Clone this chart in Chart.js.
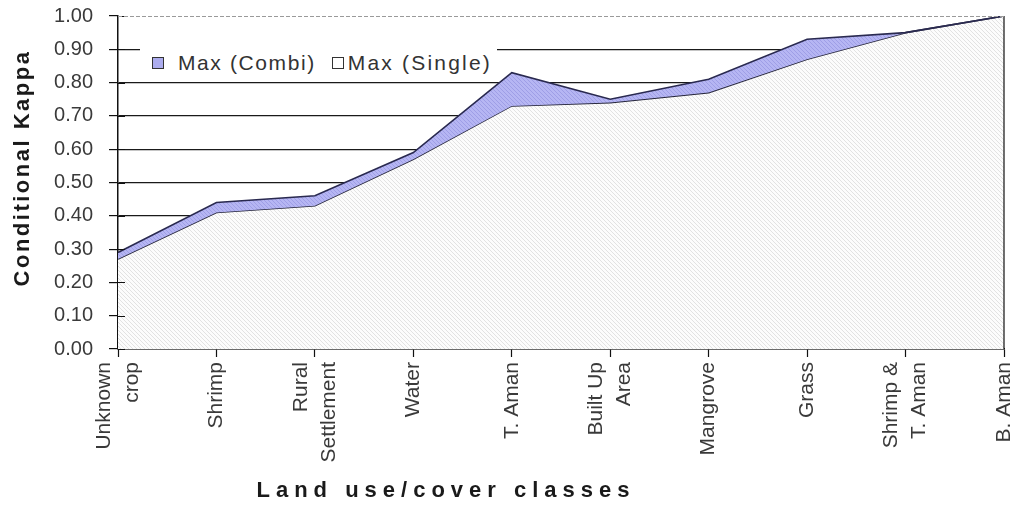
<!DOCTYPE html>
<html>
<head>
<meta charset="utf-8">
<script src="https://cdn.jsdelivr.net/npm/chart.js@4.4.1/dist/chart.umd.min.js"></script>
<style>
  html, body { margin: 0; padding: 0; background: #fff; }
  #wrap { position: relative; width: 1018px; height: 510px; }
  #legend {
    position: absolute; left: 140px; top: 45px; width: 357px; height: 36px;
    background: #fff; display: flex; align-items: center;
    font: 21px "Liberation Sans", Arial, sans-serif; color: #333; letter-spacing: 1.6px;
    white-space: nowrap;
  }
  #legend .item { display: flex; align-items: center; }
  #legend .sw { width: 10px; height: 10px; border: 1px solid #333; }
</style>
</head>
<body>
<div id="wrap">
  <canvas id="chart-kappa" width="1018" height="510"></canvas>
  <div id="legend"></div>
</div>
<script>
// Conditional Kappa por clase de uso/cobertura del suelo
const classes = [['Unknown', 'crop'], 'Shrimp', ['Rural', 'Settlement'], 'Water', 'T. Aman',
  ['Built Up', 'Area'], 'Mangrove', 'Grass', ['Shrimp &', 'T. Aman'], 'B. Aman'];
const maxCombi  = [0.29, 0.44, 0.46, 0.59, 0.83, 0.75, 0.81, 0.93, 0.95, 1.00];
const maxSingle = [0.27, 0.41, 0.43, 0.57, 0.73, 0.74, 0.77, 0.87, 0.95, 1.00];
const kappaTicks = [0, 0.1, 0.2, 0.3, 0.4, 0.5, 0.6, 0.7, 0.8, 0.9, 1.0];

const FONT = "'Liberation Sans', Arial, sans-serif";

function makePattern(base, dot) {
  const c = document.createElement('canvas');
  c.width = 4; c.height = 4;
  const g = c.getContext('2d');
  g.fillStyle = base;
  g.fillRect(0, 0, 4, 4);
  g.fillStyle = dot;
  for (let i = 0; i < 4; i++) g.fillRect(i, i, 1, 1);
  return g.createPattern(c, 'repeat');
}

const singlePattern = makePattern('#fcfcfc', '#e2e2e2');
const combiPattern = makePattern('#b6b6f3', '#9e9ee6');

// etiquetas X (centradas en varias lineas), titulos y marcas internas
const decor = {
  id: 'decor',
  afterDatasetsDraw(chart) {
    const { ctx, chartArea: a, scales: { y } } = chart;
    ctx.save();
    ctx.strokeStyle = '#111';
    ctx.lineWidth = 1.2;
    ctx.beginPath();
    kappaTicks.forEach(v => {
      const py = Math.round(y.getPixelForValue(v)) + 0.5;
      ctx.moveTo(a.left, py);
      ctx.lineTo(a.left + 7, py);
    });
    ctx.moveTo(a.right, a.top);
    ctx.lineTo(a.right, a.bottom);
    ctx.stroke();
    ctx.strokeStyle = '#9a9a9a';
    ctx.lineWidth = 1;
    ctx.setLineDash([4, 2]);
    ctx.beginPath();
    ctx.moveTo(a.left, a.top + 0.5);
    ctx.lineTo(a.right, a.top + 0.5);
    ctx.stroke();
    ctx.restore();
  },
  afterDraw(chart) {
    const { ctx, chartArea: a, scales: { x } } = chart;
    ctx.save();
    ctx.fillStyle = '#3a3a3a';
    ctx.font = '21px ' + FONT;
    ctx.textAlign = 'right';
    ctx.textBaseline = 'middle';
    const lh = 28;
    classes.forEach((lab, i) => {
      const lines = Array.isArray(lab) ? lab : [lab];
      const px = x.getPixelForTick(i);
      lines.forEach((t, j) => {
        ctx.save();
        ctx.translate(px + (j - (lines.length - 1) / 2) * lh, a.bottom + 13);
        ctx.rotate(-Math.PI / 2);
        ctx.fillText(t, 0, 0);
        ctx.restore();
      });
    });

    ctx.fillStyle = '#1a1a1a';
    ctx.textAlign = 'center';
    ctx.font = 'bold 22px ' + FONT;
    ctx.letterSpacing = '6px';
    ctx.fillText('Land use/cover classes', 446, 491);
    ctx.letterSpacing = '2.5px';
    ctx.translate(23, 168);
    ctx.rotate(-Math.PI / 2);
    ctx.fillText('Conditional Kappa', 0, 0);
    ctx.restore();
  }
};

const chart = new Chart(document.getElementById('chart-kappa'), {
  type: 'line',
  data: {
    labels: classes,
    datasets: [
      {
        label: 'Max (Combi)',
        data: maxCombi,
        borderColor: '#2a2a50',
        borderWidth: 1.6,
        backgroundColor: combiPattern,
        fill: '+1',
        pointRadius: 0,
        tension: 0
      },
      {
        label: 'Max (Single)',
        data: maxSingle,
        borderColor: '#25253a',
        borderWidth: 1.6,
        backgroundColor: singlePattern,
        fill: 'origin',
        pointRadius: 0,
        tension: 0
      }
    ]
  },
  options: {
    responsive: false,
    animation: false,
    layout: { padding: { left: 0, right: 14, top: 16, bottom: 0 } },
    plugins: {
      legend: { display: false },
      tooltip: { enabled: false }
    },
    scales: {
      x: {
        offset: false,
        afterFit: s => { s.height = 161; },
        grid: { drawOnChartArea: false, tickLength: 8, tickColor: '#111', tickWidth: 1.2 },
        border: { color: '#111', width: 1.5 },
        ticks: { display: false, autoSkip: false }
      },
      y: {
        min: 0, max: 1,
        afterFit: s => { s.width = 118; s.paddingTop = 0; s.paddingBottom = 0; },
        afterBuildTicks: s => { s.ticks = kappaTicks.map(v => ({ value: v })); },
        grid: {
          color: ctx => (ctx.tick && ctx.tick.value >= 1 ? 'rgba(0,0,0,0)' : '#1a1a1a'),
          lineWidth: 1.2, tickLength: 9, tickColor: '#111', tickWidth: 1.2
        },
        border: { color: '#111', width: 1.5 },
        ticks: {
          padding: 16, color: '#3a3a3a',
          font: { family: FONT, size: 20 },
          callback: v => v.toFixed(2)
        }
      }
    }
  },
  plugins: [decor]
});

// leyenda dentro del area del grafico
const legend = document.getElementById('legend');
const swStyle = [
  { bg: '#acacee', ml: 12, mr: 14, ls: 1.6 },
  { bg: '#fff', ml: 16, mr: 4, ls: 2.2 }
];
chart.data.datasets.forEach((ds, i) => {
  const item = document.createElement('span');
  item.className = 'item';
  item.style.letterSpacing = swStyle[i].ls + 'px';
  const sw = document.createElement('span');
  sw.className = 'sw';
  sw.style.background = swStyle[i].bg;
  sw.style.marginLeft = swStyle[i].ml + 'px';
  sw.style.marginRight = swStyle[i].mr + 'px';
  item.appendChild(sw);
  item.appendChild(document.createTextNode(ds.label));
  legend.appendChild(item);
});
</script>
</body>
</html>
